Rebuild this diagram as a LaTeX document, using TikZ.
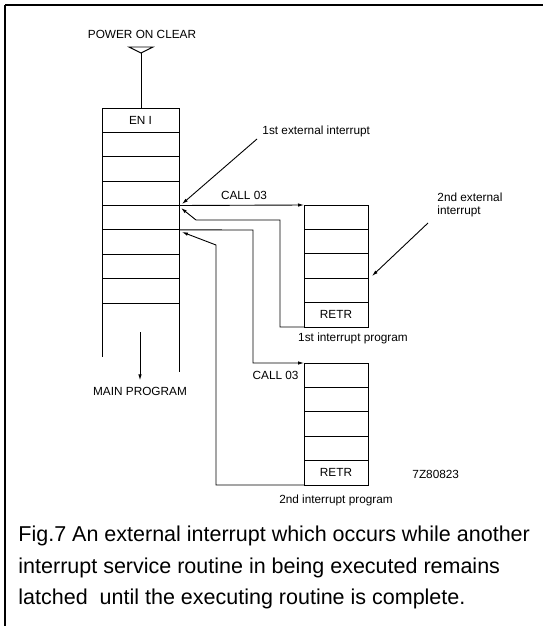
\documentclass[tikz,border=0pt]{standalone}
\usepackage{fontspec}
\setmainfont{Liberation Sans}
\usetikzlibrary{arrows.meta}
\begin{document}
\begin{tikzpicture}[x=1pt,y=-1pt,
  line width=0.9pt,
  rowbox/.style={draw,rectangle,inner sep=0pt,outer sep=0pt,minimum height=24.375pt},
  mainrow/.style={rowbox,minimum width=77pt},
  subrow/.style={rowbox,minimum width=64pt,minimum height=24.4pt},
  lbl/.style={inner sep=0pt,font=\fontsize{11.8}{13.5}\selectfont},
  captext/.style={inner sep=0pt,anchor=base west,font=\fontsize{21.5}{25}\selectfont},
  arr/.style={-{Latex[length=6pt,width=3.5pt]}}]
\useasboundingbox (0,0) rectangle (543,626);
% frame
\draw[line width=1.5pt] (5,5) -- (543,5);
\draw[line width=1.5pt] (5,5) -- (5,626);
% main stack
\foreach \i in {1,...,8}
  \node[mainrow] (m\i) at (140.5,{108+24.375*(\i-0.5)}) {};
\node[lbl] (en) at (m1.center) {EN I};
% first interrupt program
\foreach \i in {1,...,5}
  \node[subrow] (a\i) at (336,{205+24.4*(\i-0.5)}) {};
\node[lbl] (retr1) at (a5.center) {RETR};
% second interrupt program
\foreach \i in {1,...,5}
  \node[subrow] (b\i) at (336,{363+24.4*(\i-0.5)}) {};
\node[lbl] (retr2) at (b5.center) {RETR};
% power on clear
\node[lbl] (poc) at (142,34) {POWER ON CLEAR};
\coordinate (tl) at (129,47);
\coordinate (tr) at (153,47);
\coordinate (tip) at (141,53);
\draw (tl) -- (tr) -- (tip) -- cycle;
\draw (tip) -- (tip |- m1.north);
% extended stack sides
\coordinate (mlend) at (102,357);
\coordinate (mrend) at (179,372);
\draw (m8.south west) -- (mlend);
\draw (m8.south east) -- (mrend);
% main program
\coordinate (mpa) at (140,332);
\node[lbl] (mp) at (140,391) {MAIN PROGRAM};
\draw[arr] (mpa) -- ([yshift=6pt]mp.north);
% call 03 (first)
\draw[arr] (m4.south east) -- (a1.north west);
\node[lbl] (call1) at (244,195) {CALL 03};
% 1st external interrupt
\node[lbl,anchor=west] (ext1) at (262,131) {1st external interrupt};
\coordinate (e1s) at (257,139);
\coordinate (e1t) at (182,204);
\draw[arr] (e1s) -- (e1t);
% return 1
\coordinate (r1a) at (280,327);
\coordinate (r1b) at (280,220);
\coordinate (r1c) at (196,220);
\coordinate (r1t) at (181,208);
\draw[arr] (a5.south west) -- (r1a) -- (r1b) -- (r1c) -- (r1t);
% call 03 (second)
\coordinate (c2a) at (253,230);
\coordinate (c2b) at (253,363);
\draw[arr] (m5.south east) -- (c2a) -- (c2b) -- (b1.north west);
\node[lbl,anchor=east] (call2) at (299,375) {CALL 03};
% return 2
\coordinate (r2a) at (216,485);
\coordinate (r2b) at (216,245);
\coordinate (r2t) at (182,232);
\draw[arr] (b5.south west) -- (r2a) -- (r2b) -- (r2t);
% 2nd external interrupt
\node[lbl,align=left,anchor=north west] (ext2) at (437,192) {2nd external\\interrupt};
\coordinate (e2s) at (428,223);
\coordinate (e2t) at (372,276);
\draw[arr] (e2s) -- (e2t);
% labels under boxes
\node[lbl] (p1) at (353,338) {1st interrupt program};
\node[lbl] (p2) at (336,500) {2nd interrupt program};
\node[lbl,anchor=west] (code) at (412,474) {7Z80823};
% caption
\node[captext] (c1) at (18,541) {Fig.7 An external interrupt which occurs while another};
\node[captext] (c2) at (18,573) {interrupt service routine in being executed remains};
\node[captext] (c3) at (18,604) {latched\ \ until the executing routine is complete.};
\end{tikzpicture}
\end{document}
